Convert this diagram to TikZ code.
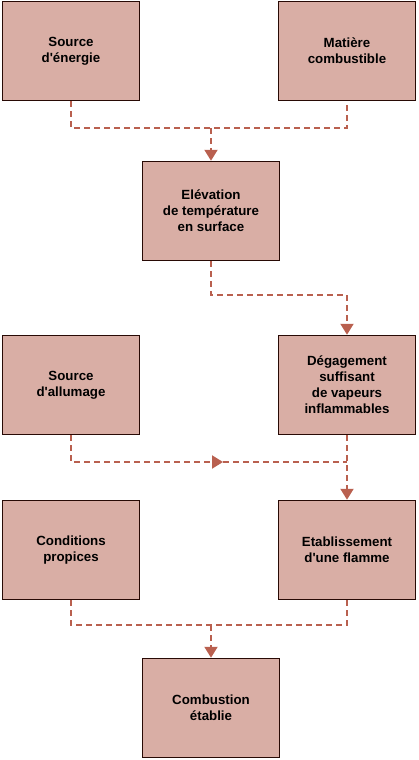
\documentclass[tikz,border=0pt]{standalone}
\usepackage{fontspec}
\setmainfont{Liberation Sans}
\usetikzlibrary{arrows.meta}

\definecolor{boxfill}{RGB}{217,174,165}
\definecolor{boxline}{RGB}{40,10,5}
\definecolor{linkcol}{RGB}{185,96,79}

\tikzset{
  stagebox/.style={draw=boxline, line width=1.5pt, fill=boxfill,
    minimum width=137pt, minimum height=99pt, align=center,
    font=\bfseries\fontsize{13.3}{16}\selectfont, inner sep=2pt},
  link/.style={draw=linkcol, line width=2pt, dash pattern=on 6pt off 4pt},
  tip/.style={-{Triangle[width=13pt, length=11pt, fill=linkcol]}}
}

\begin{document}
\begin{tikzpicture}[x=1pt, y=-1pt]
  \useasboundingbox (0,0) rectangle (418,760);

  % =======================================================
  % PARAMETERS
  % =======================================================
  \def\Xleft{71}   % centre of the left column
  \def\Xmid{211}   % centre of the middle column
  \def\Xright{347} % centre of the right column
  \def\q{\textquotesingle} % straight apostrophe

  % =======================================================
  % 1. Heating of the fuel
  % =======================================================
  \node[stagebox] (srcE) at (\Xleft, 51) {Source\\d\q énergie};
  \node[stagebox] (mat)  at (\Xright, 51) {Matière\\combustible};
  \node[stagebox] (elev) at (\Xmid, 211) {Elévation\\de température\\en surface};

  \coordinate (j1) at (\Xmid, 128);
  \draw[link] (srcE.south) |- (j1) -| (mat.south);
  \draw[link, tip] (j1) -- (elev.north);

  % =======================================================
  % 2. Vapours and ignition
  % =======================================================
  \node[stagebox] (allum) at (\Xleft, 385) {Source\\d\q allumage};
  \node[stagebox] (deg)   at (\Xright, 385) {Dégagement\\suffisant\\de vapeurs\\inflammables};

  \coordinate (j2) at (\Xmid, 295);
  \draw[link, tip] (elev.south) -- (j2) -| (deg.north);

  \coordinate (m3) at (223, 462);
  \coordinate (j3) at (\Xright, 462);
  \draw[link, tip] (allum.south) |- (m3);
  \draw[link] (m3) -- (j3);

  % =======================================================
  % 3. Flame and combustion
  % =======================================================
  \node[stagebox] (cond) at (\Xleft, 550) {Conditions\\propices};
  \node[stagebox] (etab) at (\Xright, 550) {Etablissement\\d\q une flamme};
  \node[stagebox] (comb) at (\Xmid, 708) {Combustion\\établie};

  \draw[link, tip] (deg.south) -- (etab.north);

  \coordinate (j4) at (\Xmid, 625);
  \draw[link] (cond.south) |- (j4) -| (etab.south);
  \draw[link, tip] (j4) -- (comb.north);

\end{tikzpicture}
\end{document}
